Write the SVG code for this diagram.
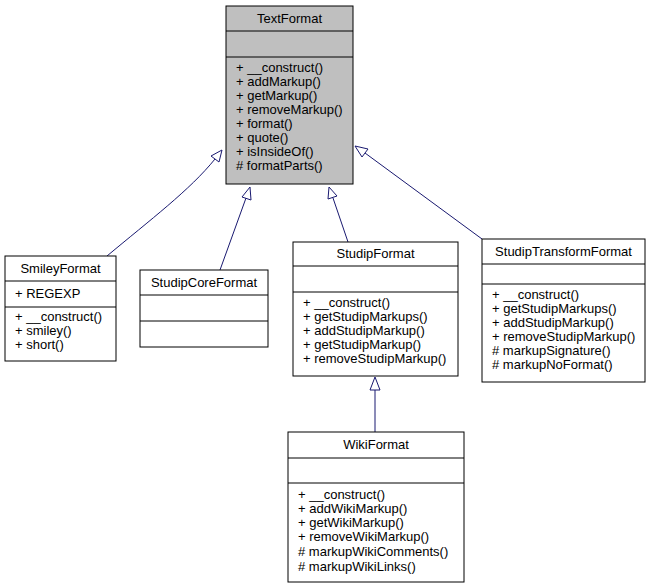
<svg xmlns="http://www.w3.org/2000/svg" width="653" height="588" viewBox="0 0 653 588">
<style>
text{font-family:"Liberation Sans",Arial,sans-serif;font-size:13px;fill:#000}
.t{text-anchor:middle}
.b{fill:#fff;stroke:#000;stroke-width:1}
.g{fill:#bfbfbf;stroke:#000;stroke-width:1}
.l{stroke:#000;stroke-width:1}
.e{fill:none;stroke:#191970;stroke-width:1}
.a{fill:#fff;stroke:#191970;stroke-width:1}
</style>
<rect width="653" height="588" fill="#fff"/>
<g id="connectors">
<path class="e" d="M107,256 C150,220 190,190 215,159"/><polygon class="a" points="222,150 211,156 219,162"/>
<path class="e" d="M220,270 L246,198"/><polygon class="a" points="250,187 242,197 251,200"/>
<path class="e" d="M348,242 L333,198"/><polygon class="a" points="329,187 328,199 337,196"/>
<path class="e" d="M482,239 L365,153"/><polygon class="a" points="355,146 362,157 368,149"/>
<path class="e" d="M375,432 L375,390"/><polygon class="a" points="375,377 370,390 380,390"/>
</g>
<g id="TextFormat">
<rect class="g" x="226" y="6" width="127" height="178"/>
<line class="l" x1="226" y1="31" x2="353" y2="31"/><line class="l" x1="226" y1="57" x2="353" y2="57"/>
<text class="t" x="289.5" y="23">TextFormat</text>
<text x="236" y="72">+ __construct()</text><text x="236" y="86">+ addMarkup()</text><text x="236" y="100">+ getMarkup()</text><text x="236" y="114">+ removeMarkup()</text><text x="236" y="128">+ format()</text><text x="236" y="142">+ quote()</text><text x="236" y="156">+ isInsideOf()</text><text x="236" y="170"># formatParts()</text>
</g>
<g id="SmileyFormat">
<rect class="b" x="5" y="256" width="111" height="105"/>
<line class="l" x1="5" y1="281" x2="116" y2="281"/><line class="l" x1="5" y1="307" x2="116" y2="307"/>
<text class="t" x="60.5" y="273">SmileyFormat</text>
<text x="15" y="298">+ REGEXP</text>
<text x="15" y="321">+ __construct()</text><text x="15" y="335">+ smiley()</text><text x="15" y="349">+ short()</text>
</g>
<g id="StudipCoreFormat">
<rect class="b" x="140" y="270" width="128" height="77"/>
<line class="l" x1="140" y1="295" x2="268" y2="295"/><line class="l" x1="140" y1="321" x2="268" y2="321"/>
<text class="t" x="204" y="287">StudipCoreFormat</text>
</g>
<g id="StudipFormat">
<rect class="b" x="293" y="242" width="165" height="134"/>
<line class="l" x1="293" y1="266" x2="458" y2="266"/><line class="l" x1="293" y1="292" x2="458" y2="292"/>
<text class="t" x="375.5" y="258">StudipFormat</text>
<text x="303" y="307">+ __construct()</text><text x="303" y="321">+ getStudipMarkups()</text><text x="303" y="335">+ addStudipMarkup()</text><text x="303" y="349">+ getStudipMarkup()</text><text x="303" y="363">+ removeStudipMarkup()</text>
</g>
<g id="StudipTransformFormat">
<rect class="b" x="482" y="239" width="163" height="143"/>
<line class="l" x1="482" y1="264" x2="645" y2="264"/><line class="l" x1="482" y1="284" x2="645" y2="284"/>
<text class="t" x="563.5" y="256">StudipTransformFormat</text>
<text x="492" y="299">+ __construct()</text><text x="492" y="313">+ getStudipMarkups()</text><text x="492" y="327">+ addStudipMarkup()</text><text x="492" y="341">+ removeStudipMarkup()</text><text x="492" y="355"># markupSignature()</text><text x="492" y="369"># markupNoFormat()</text>
</g>
<g id="WikiFormat">
<rect class="b" x="288" y="432" width="176" height="150"/>
<line class="l" x1="288" y1="458" x2="464" y2="458"/><line class="l" x1="288" y1="483" x2="464" y2="483"/>
<text class="t" x="376" y="449">WikiFormat</text>
<text x="298" y="499">+ __construct()</text><text x="298" y="513">+ addWikiMarkup()</text><text x="298" y="527">+ getWikiMarkup()</text><text x="298" y="541">+ removeWikiMarkup()</text><text x="298" y="556"># markupWikiComments()</text><text x="298" y="571"># markupWikiLinks()</text>
</g>
</svg>
